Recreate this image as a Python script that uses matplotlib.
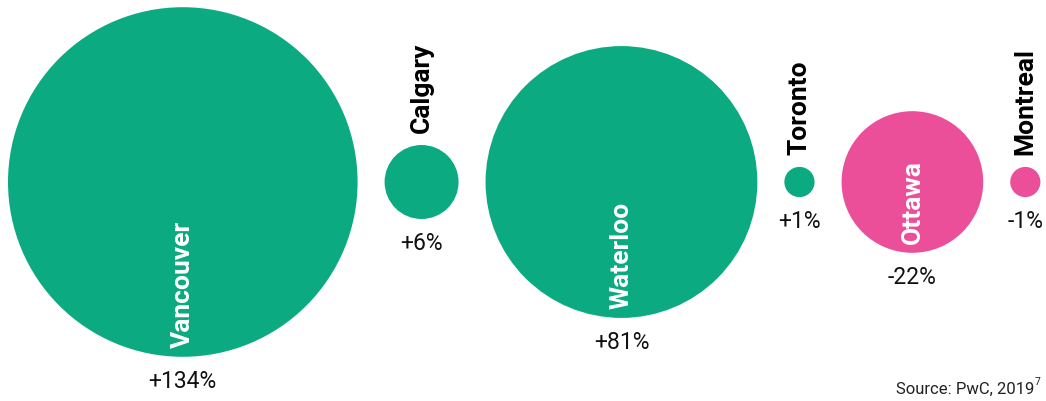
import numpy as np
import matplotlib
matplotlib.use("Agg")
import matplotlib.pyplot as plt
from matplotlib.patches import Circle

# Data: % change per city
cities = ['Vancouver', 'Calgary', 'Waterloo', 'Toronto', 'Ottawa', 'Montreal']
changes = [134, 6, 81, 1, -22, -1]
labels = ['+134%', '+6%', '+81%', '+1%', '-22%', '-1%']

GREEN = '#0BAA80'
PINK = '#EC4F9A'

plt.rcParams['font.family'] = ['Roboto', 'DejaVu Sans']

fig = plt.figure(figsize=(10.46, 4.02), dpi=100)
ax = fig.add_axes([0, 0, 1, 1])
ax.set_xlim(0, 1046)
ax.set_ylim(402, 0)
ax.set_aspect('equal')
ax.axis('off')

# diameter proportional to sqrt(|change|) so area matches the value
scale = 30.2
gap = 27
cy = 183
x = 8
for city, val, lab in zip(cities, changes, labels):
    d = scale * np.sqrt(abs(val))
    r = d / 2
    cx = x + r
    color = GREEN if val > 0 else PINK
    ax.add_patch(Circle((cx, cy), r, facecolor=color, edgecolor='none'))

    if d > 100:
        # name inside the bubble, reading upward from the bottom
        ax.text(cx, cy + r - 10, city, rotation=90, ha='center', va='bottom',
                color='white', fontsize=19, fontweight='bold')
    else:
        ax.text(cx, cy - r - 13, city, rotation=90, ha='center', va='bottom',
                color='black', fontsize=19, fontweight='bold')

    ax.text(cx, cy + r + 12, lab, ha='center', va='top', color='#111111', fontsize=16.5)
    x += d + gap

ax.text(1034, 394, 'Source: PwC, 2019', ha='right', va='baseline',
        fontsize=12, color='#222222')
ax.text(1035, 385, '7', ha='left', va='baseline', fontsize=7.5, color='#222222')

fig.savefig('out.png', dpi=100)
